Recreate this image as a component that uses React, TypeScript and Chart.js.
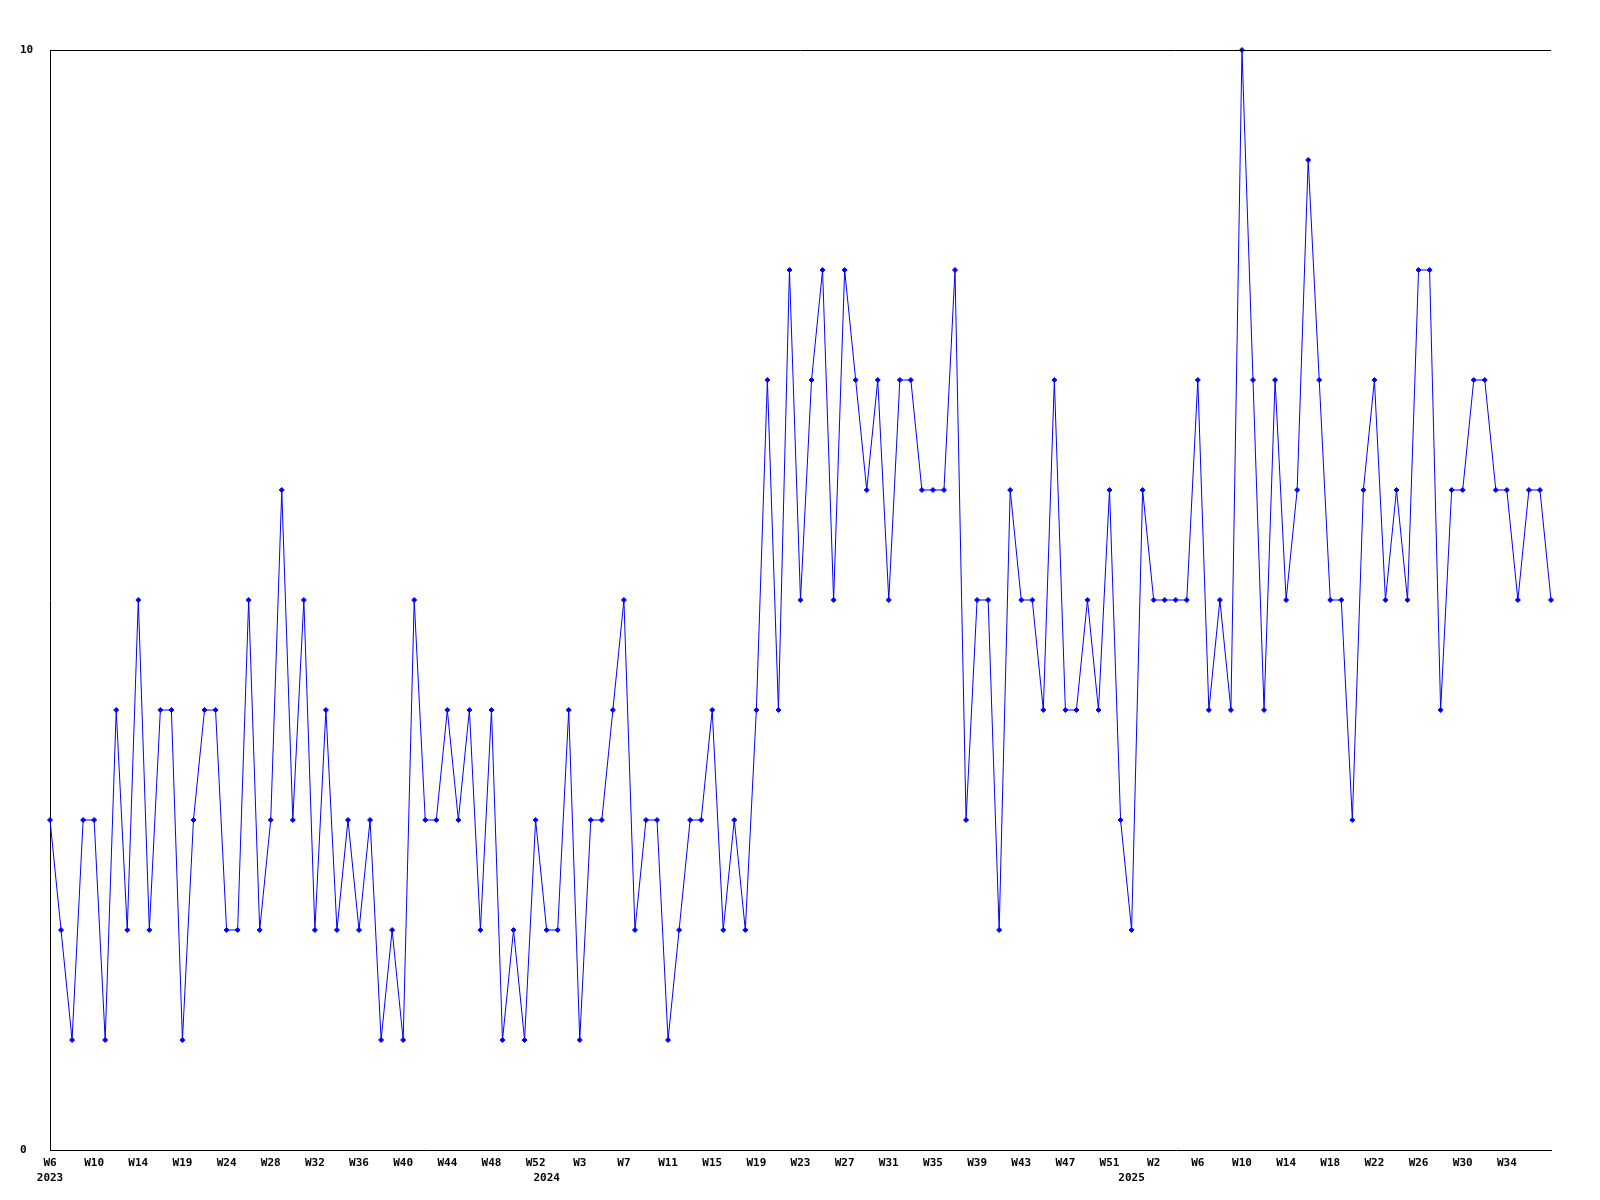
import React, { useEffect, useRef } from 'react';
import { Chart, registerables } from 'chart.js';

Chart.register(...registerables);

// Week numbers for each data point, per year
const weeks2023 = [6, 7, 8, 9, 10, 11, 12, 13, 14, 15, 16, 17, 19, 20, 21, 22, 24, 25, 26, 27, 28, 29, 30, 31, 32, 33, 34, 35, 36, 37, 38, 39, 40, 41, 42, 43, 44, 45, 46, 47, 48, 49, 50, 51, 52];
const weeks2024 = [0, 1, 2, 3, 4, 5, 6, 7, 8, 9, 10, 11, 12, 13, 14, 15, 16, 17, 18, 19, 20, 21, 22, 23, 24, 25, 26, 27, 28, 29, 30, 31, 32, 33, 34, 35, 36, 37, 38, 39, 40, 41, 42, 43, 44, 45, 46, 47, 48, 49, 50, 51, 52];
const weeks2025 = [0, 1, 2, 3, 4, 5, 6, 7, 8, 9, 10, 11, 12, 13, 14, 15, 16, 17, 18, 19, 20, 21, 22, 23, 24, 25, 26, 27, 28, 29, 30, 31, 32, 33, 34, 35, 36, 37, 38];
const years = ['2023', '2024', '2025'];

const values = [
  3, 2, 1, 3, 3, 1, 4, 2, 5, 2,
  4, 4, 1, 3, 4, 4, 2, 2, 5, 2,
  3, 6, 3, 5, 2, 4, 2, 3, 2, 3,
  1, 2, 1, 5, 3, 3, 4, 3, 4, 2,
  4, 1, 2, 1, 3, 2, 2, 4, 1, 3,
  3, 4, 5, 2, 3, 3, 1, 2, 3, 3,
  4, 2, 3, 2, 4, 7, 4, 8, 5, 7,
  8, 5, 8, 7, 6, 7, 5, 7, 7, 6,
  6, 6, 8, 3, 5, 5, 2, 6, 5, 5,
  4, 7, 4, 4, 5, 4, 6, 3, 2, 6,
  5, 5, 5, 5, 7, 4, 5, 4, 10, 7,
  4, 7, 5, 6, 9, 7, 5, 5, 3, 6,
  7, 5, 6, 5, 8, 8, 4, 6, 6, 7,
  7, 6, 6, 5, 6, 6, 5,
];

const yTicks = [0, 10];
const labelEvery = 4;

const weekLists = [weeks2023, weeks2024, weeks2025];
const categories: string[] = [];
const weekOf: number[] = [];
const yearStart: Record<number, string> = {};
weekLists.forEach((list, yi) => {
  yearStart[categories.length] = years[yi];
  list.forEach((w) => {
    categories.push(`${years[yi]} W${w}`);
    weekOf.push(w);
  });
});

const FONT = { family: '"DejaVu Sans Mono", "Liberation Mono", monospace', size: 11, weight: 'bold' as const, lineHeight: 1.4 };

const topBorder = {
  id: 'topBorder',
  afterDraw(chart: any) {
    const { ctx, chartArea } = chart;
    ctx.save();
    ctx.strokeStyle = '#000';
    ctx.lineWidth = 1;
    ctx.beginPath();
    ctx.moveTo(chartArea.left, Math.round(chartArea.top) + 0.5);
    ctx.lineTo(chartArea.right, Math.round(chartArea.top) + 0.5);
    ctx.stroke();
    ctx.restore();
  },
};

export default function App() {
  const ref = useRef<HTMLCanvasElement | null>(null);
  useEffect(() => {
    if (!ref.current) return;
    const chart = new Chart(ref.current, {
      type: 'line',
      data: {
        labels: categories,
        datasets: [
          {
            data: values,
            borderColor: '#0000ff',
            backgroundColor: '#0000ff',
            borderWidth: 1,
            pointStyle: 'rectRot',
            pointRadius: 2.5,
            pointBorderWidth: 1,
            pointBackgroundColor: '#0000ff',
            pointBorderColor: '#0000ff',
            tension: 0,
            fill: false,
            clip: false as any,
          },
        ],
      },
      options: {
        animation: false,
        responsive: false,
        devicePixelRatio: 1,
        layout: { padding: { left: 20, top: 50, right: 49, bottom: 0 } },
        plugins: { legend: { display: false }, tooltip: { enabled: false } },
        scales: {
          x: {
            type: 'category',
            offset: false,
            grid: { display: false, drawTicks: false },
            border: { display: true, color: '#000', width: 1 },
            ticks: {
              autoSkip: false,
              maxRotation: 0,
              minRotation: 0,
              padding: 5,
              color: '#000',
              font: FONT,
              callback: (_v: any, index: number) => {
                const show = index % labelEvery === 0 && index < categories.length - 1;
                const wk = show ? `W${weekOf[index]}` : '';
                const yr = yearStart[index];
                if (yr) return [wk, yr];
                return wk;
              },
            },
            afterFit: (scale: any) => {
              scale.height = 50;
            },
          },
          y: {
            min: 0,
            max: 10,
            grid: { display: false, drawTicks: false },
            border: { display: true, color: '#000', width: 1 },
            afterBuildTicks: (scale: any) => {
              scale.ticks = yTicks.map((v) => ({ value: v }));
            },
            ticks: {
              crossAlign: 'far',
              padding: 4,
              color: '#000',
              font: FONT,
            },
            afterFit: (scale: any) => {
              scale.width = 30;
            },
          },
        },
      },
      plugins: [topBorder],
    });
    return () => chart.destroy();
  }, []);

  return (
    <div style={{ position: 'fixed', left: 0, top: 0, width: 1600, height: 1200, background: '#fff' }}>
      <canvas ref={ref} width={1600} height={1200} style={{ width: 1600, height: 1200, display: 'block' }} />
    </div>
  );
}
